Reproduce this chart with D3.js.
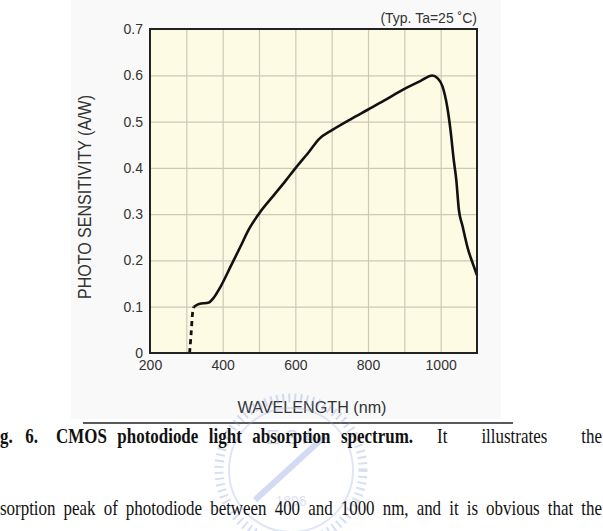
<html>
<meta charset="utf-8" />
<head>
<title>Photo sensitivity</title>
<script src="https://cdn.jsdelivr.net/npm/d3@7"></script>
<style>
	body { margin: 0; background: #fff; }
	svg { display: block; }
	.tick text { font-family: "Liberation Sans", Arial, sans-serif; font-size: 14px; fill: #333; }
</style>
</head>
<body>
<svg width="603" height="531"></svg>
<script>
// data
const dashWavelength = [309, 313, 317, 321];
const dashSensitivity = [0, 0.04, 0.085, 0.1];

const wavelength = [321, 335, 362, 374, 394, 422, 449, 472, 500, 541, 573, 601, 640, 665, 702, 752, 798, 844, 899, 945, 977, 991, 1005, 1018, 1027, 1036, 1043, 1050, 1060, 1075, 1090, 1100];
const sensitivity = [0.1, 0.106, 0.109, 0.118, 0.143, 0.187, 0.230, 0.267, 0.301, 0.341, 0.372, 0.400, 0.437, 0.462, 0.482, 0.505, 0.525, 0.545, 0.570, 0.588, 0.5996, 0.594, 0.576, 0.532, 0.482, 0.417, 0.374, 0.31, 0.275, 0.225, 0.19, 0.168];

const xTicks = [200, 400, 600, 800, 1000];
const xGrid = [300, 400, 500, 600, 700, 800, 900, 1000];
const yTicks = [0, 0.1, 0.2, 0.3, 0.4, 0.5, 0.6, 0.7];

const captionLine1a = ["Fig.", "6."];
const captionLine1b = ["CMOS", "photodiode", "light", "absorption", "spectrum."];
const captionLine1c = ["It", "illustrates", "the"];
const captionLine2 = ["absorption", "peak", "of", "photodiode", "between", "400", "and", "1000", "nm,", "and", "it", "is", "obvious", "that", "the"];

const svg = d3.select('svg');
const pLeft = 150, pRight = 477, pTop = 29, pBottom = 353;

let xScale = d3.scaleLinear().domain([200, 1100]).range([pLeft, pRight]);
let yScale = d3.scaleLinear().domain([0, 0.7]).range([pBottom, pTop]);

// faint scan background
svg.append('rect').attr('x', 71).attr('y', 0).attr('width', 430).attr('height', 419).attr('fill', '#f9f9f9');

// plot background
svg.append('rect')
	.attr('x', pLeft).attr('y', pTop)
	.attr('width', pRight - pLeft).attr('height', pBottom - pTop)
	.attr('fill', '#fdfbe4');

// grid
svg.append('g').attr('transform', `translate(0,${pBottom})`)
	.call(d3.axisBottom(xScale).tickValues(xGrid).tickSize(-(pBottom - pTop)).tickFormat(''))
	.call(g => g.select('.domain').remove())
	.selectAll('line').attr('stroke', '#cbcab4').attr('stroke-width', 1.2);
svg.append('g').attr('transform', `translate(${pLeft},0)`)
	.call(d3.axisLeft(yScale).tickValues(yTicks.slice(1, 7)).tickSize(-(pRight - pLeft)).tickFormat(''))
	.call(g => g.select('.domain').remove())
	.selectAll('line').attr('stroke', '#cbcab4').attr('stroke-width', 1.2);

// axes labels
svg.append('g').attr('transform', `translate(0,${pBottom})`)
	.call(d3.axisBottom(xScale).tickValues(xTicks).tickSize(0).tickPadding(7).tickFormat(d3.format('d')))
	.call(g => g.select('.domain').remove());
svg.append('g').attr('transform', `translate(${pLeft},0)`)
	.call(d3.axisLeft(yScale).tickValues(yTicks).tickSize(0).tickPadding(7)
		.tickFormat(d => d === 0 ? '0' : d.toFixed(1)))
	.call(g => g.select('.domain').remove());

// curve
let line = d3.line()
	.x(d => xScale(d[0]))
	.y(d => yScale(d[1]))
	.curve(d3.curveMonotoneX);

svg.append('path')
	.attr('d', line(dashWavelength.map((w, i) => [w, dashSensitivity[i]])))
	.attr('fill', 'none').attr('stroke', '#111').attr('stroke-width', 2.8)
	.attr('stroke-dasharray', '5,4');
svg.append('path')
	.attr('d', line(wavelength.map((w, i) => [w, sensitivity[i]])))
	.attr('fill', 'none').attr('stroke', '#111').attr('stroke-width', 2.6)
	.attr('stroke-linejoin', 'round');

// frame
svg.append('rect')
	.attr('x', pLeft).attr('y', pTop)
	.attr('width', pRight - pLeft).attr('height', pBottom - pTop)
	.attr('fill', 'none').attr('stroke', '#222').attr('stroke-width', 2);

// titles
svg.append('text')
	.attr('x', pRight).attr('y', 23)
	.attr('text-anchor', 'end')
	.style('font-family', '"Liberation Sans", Arial, sans-serif').style('font-size', '14px').attr('fill', '#333')
	.text('(Typ. Ta=25 ˚C)');

svg.append('text')
	.attr('transform', 'translate(91,197) rotate(-90)')
	.attr('text-anchor', 'middle')
	.attr('textLength', 204).attr('lengthAdjust', 'spacingAndGlyphs')
	.style('font-family', '"Liberation Sans", Arial, sans-serif').style('font-size', '18px').attr('fill', '#333')
	.text('PHOTO SENSITIVITY (A/W)');

svg.append('text')
	.attr('x', 312).attr('y', 413)
	.attr('text-anchor', 'middle')
	.attr('textLength', 149).attr('lengthAdjust', 'spacingAndGlyphs')
	.style('font-family', '"Liberation Sans", Arial, sans-serif').style('font-size', '17px').attr('fill', '#333')
	.text('WAVELENGTH (nm)');

svg.append('line')
	.attr('x1', 83).attr('x2', 513).attr('y1', 423).attr('y2', 423)
	.attr('stroke', '#222').attr('stroke-width', 1.5);

// faint watermark
let wm = svg.append('g').attr('opacity', 0.3);
wm.append('circle').attr('cx', 291).attr('cy', 470).attr('r', 72)
	.attr('fill', 'none').attr('stroke', '#7f93dd').attr('stroke-width', 9).attr('stroke-dasharray', '2,4');
wm.append('circle').attr('cx', 291).attr('cy', 470).attr('r', 62)
	.attr('fill', 'none').attr('stroke', '#9aa9e6').attr('stroke-width', 2);
wm.append('text').attr('x', 291).attr('y', 444).attr('text-anchor', 'middle')
	.style('font-family', '"Liberation Sans", Arial, sans-serif').style('font-size', '20px').attr('fill', '#6f86d8')
	.text('E S A');
wm.append('line').attr('x1', 325).attr('y1', 436).attr('x2', 255).attr('y2', 500)
	.attr('stroke', '#6f86d8').attr('stroke-width', 6);
wm.append('text').attr('x', 291).attr('y', 506).attr('text-anchor', 'middle')
	.style('font-family', '"Liberation Sans", Arial, sans-serif').style('font-size', '14px').attr('fill', '#8d9fe2')
	.text('1896');

// caption, justified word by word; glyphs squeezed like the scan
const squeeze = 0.77;
function justify(words, y, x0, x1, bold) {
	let g = svg.append('g');
	let nodes = words.map(w => g.append('text')
		.attr('y', y)
		.style('font-family', '"Liberation Serif", "Times New Roman", serif')
		.style('font-size', '22px')
		.style('font-weight', bold ? 'bold' : 'normal')
		.attr('fill', '#111')
		.text(w));
	let widths = nodes.map(n => n.node().getComputedTextLength() * squeeze);
	nodes.forEach((n, i) => n.attr('textLength', widths[i]).attr('lengthAdjust', 'spacingAndGlyphs'));
	let total = d3.sum(widths);
	let gap = words.length > 1 ? (x1 - x0 - total) / (words.length - 1) : 0;
	let x = x0;
	nodes.forEach((n, i) => { n.attr('x', x); x += widths[i] + gap; });
}

justify(captionLine1a, 443, -15, 38, true);
justify(captionLine1b, 443, 56, 413, true);
justify(captionLine1c, 443, 437, 602, false);
justify(captionLine2, 515, -16, 602, false);
</script>
</body>
</html>
